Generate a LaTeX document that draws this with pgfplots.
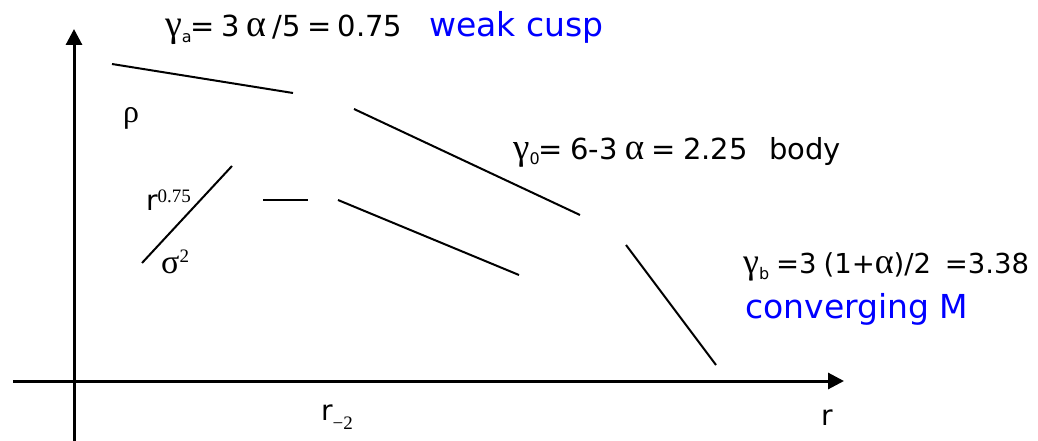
\documentclass[border=0pt]{standalone}
\usepackage{pgfplots}
\pgfplotsset{compat=1.18}
\usepackage{fontspec}
\setmainfont{DejaVu Sans}
\newfontfamily\grk{Liberation Serif}
\usetikzlibrary{arrows.meta}

\newcommand\fs[1]{\fontsize{#1}{#1}\selectfont}
% Greek letters set a little larger than the surrounding sans text
\newcommand\gk[2]{{\fs{#1}\grk #2}}

\begin{document}
\begin{tikzpicture}
\begin{axis}[
  scale only axis, width=1038pt, height=441pt,
  xmin=0, xmax=1038, ymin=0, ymax=441, y dir=reverse,
  hide axis, clip=false]
% axes
\addplot[line width=3pt, -{Triangle[length=16pt,width=16pt]}] coordinates {(13,381)(844,381)};
\addplot[line width=3pt, -{Triangle[length=16pt,width=16pt]}] coordinates {(74,441)(74,29)};
% power-law pieces
\addplot[line width=2pt] coordinates {(112,64)(293,93)};
\addplot[line width=2pt] coordinates {(354,109)(580,215)};
\addplot[line width=2pt] coordinates {(626,245)(716,365)};
\addplot[line width=2pt] coordinates {(142,263)(232,166)};
\addplot[line width=2pt] coordinates {(263,200)(308,200)};
\addplot[line width=2pt] coordinates {(338,200)(519,275)};
% labels
\node[anchor=base west, inner sep=0] at (axis cs:165,37) {\fs{29}\spaceskip=0.22em\gk{38}{γ}\raisebox{-6pt}{\fs{16}a}\kern-1pt= 3 \gk{38}{α} /5 = 0.75};
\node[anchor=base west, inner sep=0, blue] at (axis cs:429,37) {\fs{33}weak cusp};
\node[anchor=base west, inner sep=0] at (axis cs:123,123) {\fs{32}\grk ρ};
\node[anchor=base west, inner sep=0] at (axis cs:513,159) {\fs{29}\spaceskip=0.25em\gk{37}{γ}\raisebox{-6pt}{\fs{16}0}\kern-1pt= 6-3 \gk{37}{α} = 2.25\ \ \ body};
\node[anchor=base west, inner sep=0] at (axis cs:146,210) {\fs{28}r\raisebox{8pt}{\fs{19}\grk 0.75}};
\node[anchor=base west, inner sep=0] at (axis cs:161,273) {\fs{34}\grk σ\raisebox{11pt}{\fs{19}2}};
\node[anchor=base west, inner sep=0] at (axis cs:743,273) {\fs{27.5}\spaceskip=0.25em\gk{36}{γ}\raisebox{-6pt}{\fs{16}b} =3 (1+\gk{36}{α})/2\ \ =3.38};
\node[anchor=base west, inner sep=0, blue] at (axis cs:745,318) {\fs{33}converging M};
\node[anchor=base west, inner sep=0] at (axis cs:321,420) {\fs{28}r\raisebox{-9pt}{\fs{19}\grk −2}};
\node[anchor=base west, inner sep=0] at (axis cs:821,425) {\fs{28}r};
\end{axis}
\pgfresetboundingbox
\path (current axis.south west) rectangle (current axis.north east);
\end{tikzpicture}
\end{document}
